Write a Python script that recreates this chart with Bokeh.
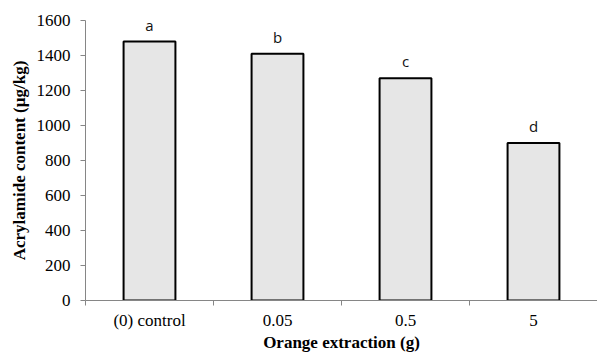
from bokeh.plotting import figure
from bokeh.models import Range1d, FixedTicker, ColumnDataSource
from bokeh.embed import file_html
from bokeh.resources import INLINE
from bokeh.core.properties import value

categories = ["(0) control", "0.05", "0.5", "5"]
values = [1480, 1410, 1270, 900]
letters = ["a", "b", "c", "d"]
y_ticks = [0, 200, 400, 600, 800, 1000, 1200, 1400, 1600]
x_title = "Orange extraction (g)"
y_title = "Acrylamide content (µg/kg)"

xs = [i + 0.5 for i in range(len(categories))]
src = ColumnDataSource(dict(x=xs, top=values, lab=letters))

p = figure(width=597, height=354, output_backend="svg", toolbar_location=None,
           x_range=Range1d(0, len(categories)), y_range=Range1d(0, 1600),
           min_border_left=85, min_border_right=0, min_border_top=20, min_border_bottom=53)
p.outline_line_color = None
p.xgrid.visible = False
p.ygrid.visible = False
p.background_fill_color = "white"

p.vbar(x="x", top="top", width=0.405, bottom=0, source=src,
       fill_color="#e6e6e6", line_color="black", line_width=2)

p.text(x="x", y="top", text="lab", source=src, text_align="center",
       text_baseline="alphabetic", y_offset=-17, text_font=value("Open Sans"),
       text_font_size="15px", text_color="#111111")

serif = "Liberation Serif"
xa = p.xaxis[0]
xa.ticker = FixedTicker(ticks=xs, minor_ticks=list(range(len(categories) + 1)))
xa.major_label_overrides = {x: c for x, c in zip(xs, categories)}
xa.major_tick_out = 0
xa.major_tick_in = 0
xa.minor_tick_out = 5
xa.minor_tick_in = 0
xa.minor_tick_line_color = "#868686"
xa.axis_line_color = "#868686"
xa.major_label_text_font = serif
xa.major_label_text_font_size = "17px"
xa.major_label_text_color = "black"
xa.major_label_standoff = 5
xa.axis_label = x_title
xa.axis_label_text_font = serif
xa.axis_label_text_font_style = "bold"
xa.axis_label_text_font_size = "17px"
xa.axis_label_text_color = "black"
xa.axis_label_standoff = 0

ya = p.yaxis[0]
ya.ticker = FixedTicker(ticks=y_ticks, minor_ticks=[])
ya.major_tick_out = 5
ya.major_tick_in = 0
ya.major_tick_line_color = "#868686"
ya.axis_line_color = "#868686"
ya.major_label_text_font = serif
ya.major_label_text_font_size = "17px"
ya.major_label_text_color = "black"
ya.major_label_standoff = 10
ya.axis_label = y_title
ya.axis_label_text_font = serif
ya.axis_label_text_font_style = "bold"
ya.axis_label_text_font_size = "17px"
ya.axis_label_text_color = "black"
ya.axis_label_standoff = 5

open("out.html", "w").write(file_html(p, INLINE))
